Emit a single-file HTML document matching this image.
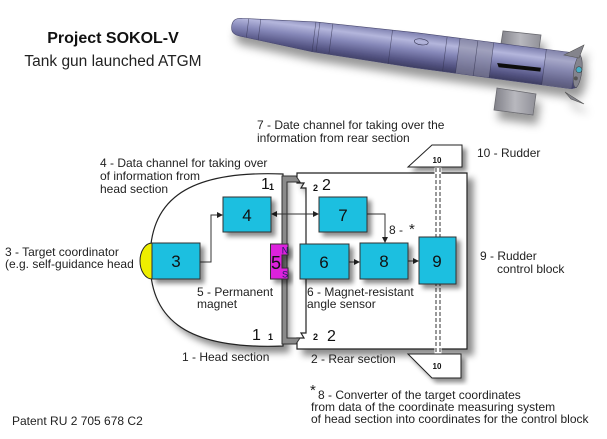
<!DOCTYPE html>
<html><head><meta charset="utf-8"><style>
html,body{margin:0;padding:0;background:#fff;}
svg{display:block;font-family:"Liberation Sans",Arial,sans-serif;}
</style></head><body>
<svg width="607" height="439" viewBox="0 0 607 439" xmlns="http://www.w3.org/2000/svg">
<defs>
  <filter id="sh" x="-20%" y="-20%" width="150%" height="150%">
    <feDropShadow dx="4" dy="4" stdDeviation="2.5" flood-color="#000" flood-opacity="0.45"/>
  </filter>
  <filter id="shb" x="-20%" y="-20%" width="150%" height="150%">
    <feDropShadow dx="6" dy="6" stdDeviation="3.5" flood-color="#000" flood-opacity="0.45"/>
  </filter>
  <filter id="msh" x="-20%" y="-50%" width="140%" height="250%">
    <feDropShadow dx="4" dy="9" stdDeviation="4.5" flood-color="#000" flood-opacity="0.4"/>
  </filter>
  <linearGradient id="bodyg" gradientUnits="userSpaceOnUse" x1="0" y1="-18" x2="0" y2="18">
    <stop offset="0" stop-color="#7a7cac"/>
    <stop offset="0.25" stop-color="#b4b6dc"/>
    <stop offset="0.5" stop-color="#8587b8"/>
    <stop offset="0.8" stop-color="#555584"/>
    <stop offset="1" stop-color="#3c3c60"/>
  </linearGradient>
  <linearGradient id="fing" x1="0" y1="0" x2="1" y2="0">
    <stop offset="0" stop-color="#808088"/>
    <stop offset="0.5" stop-color="#b8b8be"/>
    <stop offset="1" stop-color="#909098"/>
  </linearGradient>
</defs>

<!-- Title -->
<text x="113" y="43" font-size="16" font-weight="bold" text-anchor="middle" fill="#111">Project SOKOL-V</text>
<text x="113" y="66" font-size="15.5" text-anchor="middle" fill="#222">Tank gun launched ATGM</text>

<!-- Missile -->
<g filter="url(#msh)">
  <polygon points="500,50 503,31 541,35 538,56" fill="url(#fing)" stroke="#6a6a70" stroke-width="0.8"/>
  <g transform="translate(231.7,26) rotate(7.5)">
    <path d="M0,0 C0,-6 3,-8.5 10,-9 L16,-9.5 L83,-15 L185,-17.5 L345,-18 L350,-16 L350,16 L345,18 L185,17.5 L83,15 L16,9.5 L10,9 C3,8.5 0,6 0,0 Z" fill="url(#bodyg)" stroke="#4a4a70" stroke-width="0.6"/>
    <rect x="228" y="-17.5" width="34" height="35" fill="#9090a4" opacity="0.55"/>
    <rect x="315" y="-18" width="30" height="36" fill="#9090a6" opacity="0.35"/>
    <g stroke="#33334f" stroke-width="0.6" opacity="0.7">
      <line x1="16" y1="-9.5" x2="16" y2="9.5"/>
      <line x1="28" y1="-10.5" x2="28" y2="10.5"/>
      <line x1="83" y1="-15" x2="83" y2="15"/>
      <line x1="87" y1="-15" x2="87" y2="15"/>
      <line x1="100" y1="-15.5" x2="100" y2="15.5"/>
      <line x1="160" y1="-17" x2="160" y2="17"/>
      <line x1="215" y1="-17.5" x2="215" y2="17.5"/>
      <line x1="228" y1="-17.5" x2="228" y2="17.5"/>
      <line x1="246" y1="-17.5" x2="246" y2="17.5"/>
      <line x1="262" y1="-18" x2="262" y2="18"/>
      <line x1="315" y1="-18" x2="315" y2="18"/>
    </g>
    <ellipse cx="190" cy="-9" rx="7" ry="3" fill="none" stroke="#33334f" stroke-width="0.6"/>
    <polygon points="268,2 312,1 312,5 270,6" fill="#111"/>
    <ellipse cx="349" cy="0" rx="4" ry="16" fill="#84848e" stroke="#505058" stroke-width="0.6"/>
    <circle cx="350" cy="-2" r="3" fill="#4ab0c8" stroke="#333" stroke-width="0.5"/>
    <circle cx="348" cy="7" r="2" fill="#555"/>
  </g>
  <polygon points="497,88 536,94 533,115 494,110" fill="url(#fing)" stroke="#6a6a70" stroke-width="0.8"/>
  <polygon points="564,55 584,45 579,58" fill="#84848c" stroke="#555" stroke-width="0.6"/>
  <polygon points="565,92 584,104 571,99" fill="#84848c" stroke="#555" stroke-width="0.6"/>
</g>

<!-- Head section -->
<path d="M283,174 C180,170 150,205 150,260 C150,315 180,350 283,346 Z" fill="#fff" stroke="#222" stroke-width="1.2" filter="url(#shb)"/>
<!-- Rear section -->
<path d="M306,188 H301 L304,183 H297 V173 H467 V349 H297 V338 H304 L301,333 H306 Z" fill="#fff" stroke="#222" stroke-width="1.2" filter="url(#shb)"/>
<!-- head wall (gray) -->
<path d="M282,176 H296 L300,182 H287 V338 H300 L296,344 H282 Z" fill="#8a8a8a" stroke="#333" stroke-width="1"/>

<!-- Rudders -->
<polygon points="408,167 432,145 462,145 462,167" fill="#fff" stroke="#222" stroke-width="1" filter="url(#sh)"/>
<polygon points="408,354 461,354 461,378 432,378" fill="#fff" stroke="#222" stroke-width="1" filter="url(#sh)"/>
<text x="437" y="163" font-size="8" font-weight="bold" text-anchor="middle" fill="#111">10</text>
<text x="437" y="369" font-size="8" font-weight="bold" text-anchor="middle" fill="#111">10</text>
<!-- shaft -->
<rect x="434.5" y="167.5" width="7" height="186" fill="#fff"/>
<line x1="436" y1="168" x2="436" y2="353" stroke="#333" stroke-width="1" stroke-dasharray="4,2"/>
<line x1="440" y1="168" x2="440" y2="353" stroke="#333" stroke-width="1" stroke-dasharray="4,2"/>

<!-- Yellow target coordinator -->
<path d="M152,243 A12,18 0 0 0 152,279 Z" fill="#eeee00" stroke="#222" stroke-width="1"/>

<!-- Connectors -->
<g stroke="#333" stroke-width="1" fill="none">
  <polyline points="200,262 211,262 211,215 218,215"/>
  <line x1="276" y1="214" x2="314" y2="214"/>
  <polyline points="367,214 385,214 385,238"/>
  <line x1="349" y1="262" x2="355" y2="262"/>
  <line x1="408" y1="261" x2="414" y2="261"/>
</g>
<g fill="#222">
  <polygon points="223,215 217,212 217,218"/>
  <polygon points="271,214 277,211 277,217"/>
  <polygon points="319,214 313,211 313,217"/>
  <polygon points="385,243 382,237 388,237"/>
  <polygon points="360,262 354,259 354,265"/>
  <polygon points="419,261 413,258 413,264"/>
</g>

<!-- Boxes -->
<g fill="#1bbfe0" stroke="#333" stroke-width="1" filter="url(#sh)">
  <rect x="152" y="243" width="48" height="36"/>
  <rect x="223" y="197" width="48" height="35"/>
  <rect x="319" y="197" width="48" height="35"/>
  <rect x="300" y="244" width="49" height="35"/>
  <rect x="360" y="243" width="48" height="36"/>
  <rect x="419" y="237" width="37" height="47"/>
</g>
<g font-size="17" text-anchor="middle" fill="#111">
  <text x="176" y="267">3</text>
  <text x="247" y="221">4</text>
  <text x="343" y="221">7</text>
  <text x="324" y="268">6</text>
  <text x="384" y="267">8</text>
  <text x="437" y="267">9</text>
</g>

<!-- Magnet -->
<g filter="url(#sh)">
  <path d="M270.5,244 H288 V255 H282 V268 H288 V279 H270.5 Z" fill="#dd22dd" stroke="#333" stroke-width="1"/>
</g>
<text x="276" y="269" font-size="18" text-anchor="middle" fill="#111">5</text>
<text x="285" y="253.5" font-size="9" text-anchor="middle" fill="#1a1a60">N</text>
<text x="285" y="277.5" font-size="9" text-anchor="middle" fill="#1a1a60">S</text>

<!-- section numerals -->
<g fill="#111">
  <text x="261" y="189" font-size="16">1</text>
  <text x="269" y="190" font-size="9" font-weight="bold">1</text>
  <text x="313" y="191" font-size="9" font-weight="bold">2</text>
  <text x="322" y="190" font-size="16">2</text>
  <text x="252" y="340" font-size="16">1</text>
  <text x="268" y="340" font-size="9" font-weight="bold">1</text>
  <text x="313" y="340" font-size="9" font-weight="bold">2</text>
  <text x="327" y="341" font-size="16">2</text>
</g>

<!-- Labels -->
<g font-size="12" fill="#222">
  <text x="100" y="167">4 - Data channel for taking over</text>
  <text x="100" y="180">of information from</text>
  <text x="100" y="193">head section</text>
  <text x="257" y="129">7 - Date channel for taking over the</text>
  <text x="257" y="142">information from rear section</text>
  <text x="477" y="157">10 - Rudder</text>
  <text x="5" y="256">3 - Target coordinator</text>
  <text x="5" y="268">(e.g. self-guidance head</text>
  <text x="197" y="296">5 - Permanent</text>
  <text x="197" y="308">magnet</text>
  <text x="307" y="296">6 - Magnet-resistant</text>
  <text x="307" y="308">angle sensor</text>
  <text x="480" y="260">9 - Rudder</text>
  <text x="497" y="273">control block</text>
  <text x="389" y="234">8 -</text>
  <text x="182" y="361">1 - Head section</text>
  <text x="311" y="363">2 - Rear section</text>
  <text x="318" y="399">8 - Converter of the target coordinates</text>
  <text x="311" y="411">from data of the coordinate measuring system</text>
  <text x="311" y="423">of head section into coordinates for the control block</text>
  <text x="12" y="425">Patent RU 2 705 678 C2</text>
</g>
<text x="409" y="234" font-size="15" fill="#222">*</text>
<text x="310" y="395" font-size="15" fill="#222">*</text>
</svg>
</body></html>
